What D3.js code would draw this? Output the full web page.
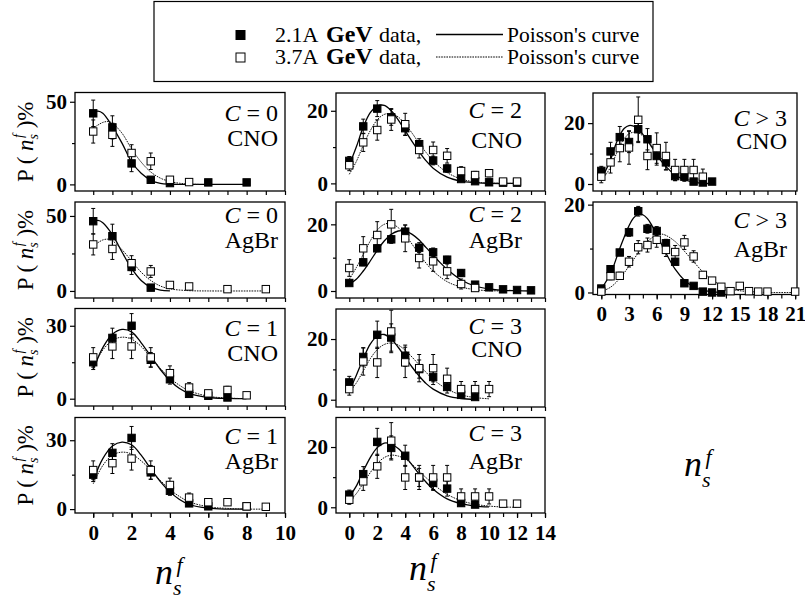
<!DOCTYPE html>
<html><head><meta charset="utf-8">
<script src="https://cdn.jsdelivr.net/npm/d3@7"></script>
<style>
body{margin:0;background:#fff;}
text{font-family:"Liberation Serif","Times New Roman",serif;fill:#000;}
</style></head><body>
<script>
// data points: [n_s^f, P(%), error]
var c0CNO_21 = [[0,43,8],[1,34.5,7],[2,12.7,5],[3,2.8,1.5],[4,0.8,0.5],[6,1.2,0.3],[8,1.2,0.3]];
var c0CNO_37 = [[0,32,7],[1,30,7],[2,19,5],[3,14,5],[4,2.8,1.5],[5,1.4,0.8]];
var c0CNO_fit21 = [[0,43.5],[0.25,44.3],[0.5,43],[1,35],[1.5,25],[2,13.7],[2.5,6.7],[3,2.6],[3.5,0.6],[4,0.1],[5,0],[6,0],[8,0]];
var c0CNO_fit37 = [[0,34],[0.5,37.5],[0.8,38],[1,37],[1.5,31],[2,21.5],[2.5,13.5],[3,7.5],[3.5,3.8],[4,1.7],[4.5,0.7],[5,0.2],[5.5,0]];

var c0AgBr_21 = [[0,46.5,8.5],[1,36.5,8],[2,16,5],[3,2.2,1]];
var c0AgBr_37 = [[0,31,7],[1,28,7],[2,18.5,5],[3,13,4],[4,4,1.5],[5,3,1],[7,1.2,0.5],[9,1.2,0.5]];
var c0AgBr_fit21 = [[0,46],[0.25,47],[0.5,45.5],[1,37.5],[1.5,26],[2,15],[2.5,7],[3,2.5],[3.5,0.6],[4,0]];
var c0AgBr_fit37 = [[0,30],[0.5,34],[0.8,34.5],[1,33.5],[1.5,27.5],[2,20],[2.5,12.5],[3,7],[3.5,3.3],[4,1.4],[5,0.2],[6,0],[9,0]];

var c1CNO_21 = [[0,15,3],[1,25,4],[2,30,5],[3,16,3],[4,8,2],[5,2,1],[6,1.2,0.5],[7,0.5,0.3]];
var c1CNO_37 = [[0,17,4],[1,21.5,5],[2,21.5,5],[3,17,4],[4,10.5,3],[5,4.6,2],[6,2.2,1],[7,3.6,1.5],[8,1.4,0.5]];
var c1CNO_fit21 = [[0,12],[0.5,21],[1,26.5],[1.5,28.5],[2,27.5],[2.5,23],[3,17.5],[3.5,12],[4,7.5],[4.5,4.2],[5,2.2],[6,0.5],[7,0.1],[8,0]];
var c1CNO_fit37 = [[0,13],[0.5,20],[1,24],[1.5,25.3],[2,24.5],[2.5,21.5],[3,17],[3.5,12.5],[4,8.5],[4.5,5.5],[5,3.3],[6,1],[7,0.3],[8,0]];

var c1AgBr_21 = [[0,15,3],[1,24.5,4],[2,31,5],[3,16,3],[4,8,2],[5,2.5,1],[6,1.2,0.5],[8,1.2,0.5]];
var c1AgBr_37 = [[0,17,4],[1,20,4.5],[2,22,5],[3,17,4],[4,10.5,3],[5,5,2],[6,3,1.2],[7,3,1.2],[8,1.2,0.5],[9,1,0.5]];
var c1AgBr_fit21 = [[0,12.5],[0.5,22],[1,27.5],[1.5,29.2],[2,28],[2.5,23.5],[3,17.5],[3.5,12],[4,7.5],[4.5,4.2],[5,2],[6,0.4],[7,0],[8,0]];
var c1AgBr_fit37 = [[0,11],[0.5,19],[1,23.5],[1.5,24.8],[2,24],[2.5,21],[3,17],[3.5,12.5],[4,8.5],[4.5,5.5],[5,3.2],[6,1],[7,0.3],[8,0],[9,0]];

var c2CNO_21 = [[0,6.2,1.2],[1,15.7,2],[2,20.6,2.2],[3,18.2,2.2],[4,15.2,2],[5,10.8,1.5],[6,6.3,1.2],[7,4.1,1],[8,1.2,0.5],[9,0.6,0.3],[10,0.3,0.2],[11,0.2,0.1],[12,0.2,0.1]];
var c2CNO_37 = [[0,5,1.5],[1,11.3,2.5],[2,14.7,2.8],[3,17.6,3],[4,16.3,3],[5,9.2,2.2],[6,9.2,2.2],[7,7.6,2],[8,3.4,1.2],[9,2.3,1],[10,2.8,1],[11,0.5,0.3],[12,0.5,0.3]];
var c2CNO_fit21 = [[0,5],[0.5,10],[1,15.5],[1.5,19.5],[2,21.3],[2.5,21.5],[3,20],[3.5,17.5],[4,14.5],[4.5,11.5],[5,8.7],[5.5,6.2],[6,4.2],[7,1.7],[8,0.6],[9,0.2],[10,0],[12,0]];
var c2CNO_fit37 = [[0,2.5],[0.5,6],[1,10.5],[1.5,14.5],[2,17.5],[2.5,19],[3,19.2],[3.5,18.3],[4,16.3],[4.5,13.8],[5,11],[5.5,8.5],[6,6.2],[7,3],[8,1.2],[9,0.4],[10,0.1],[12,0]];

var c2AgBr_21 = [[0,2.4,0.8],[1,8.6,1],[2,12.8,1],[3,15.5,1.2],[4,17.8,2],[5,13,1.5],[6,11.6,1.3],[7,9.4,1],[8,5.4,1],[9,1.9,0.5],[10,1.1,0.4],[11,0.5,0.2],[12,0.3,0.2],[13,0.2,0.1]];
var c2AgBr_37 = [[0,6.9,2.5],[1,12.8,3.5],[2,16.8,4],[3,20,4.5],[4,15.8,4],[5,9.9,3],[6,8.9,3],[7,5.9,2.2],[8,2.1,1.5],[9,0.9,0.8]];
var c2AgBr_fit21 = [[0,2],[0.5,3.5],[1,6],[1.5,9],[2,12.2],[2.5,15],[3,17],[3.5,18],[4,18],[4.5,17],[5,15.3],[5.5,13],[6,10.8],[6.5,8.5],[7,6.5],[8,3.3],[9,1.5],[10,0.6],[11,0.2],[12,0.1],[13,0]];
var c2AgBr_fit37 = [[0,3.5],[0.5,7],[1,11],[1.5,15],[2,18.3],[2.5,20],[3,20.3],[3.5,19],[4,16.8],[4.5,14],[5,11],[5.5,8.3],[6,6],[7,2.8],[8,1.2],[9,0.4],[10,0.1],[11,0]];

var c3CNO_21 = [[0,5.7,2],[1,14.1,3],[2,21.4,4.5],[3,20.5,4.5],[4,14.5,3.5],[5,10.1,3],[6,7.5,2.5],[7,4.2,2],[8,1.6,1],[9,0.9,0.7]];
var c3CNO_37 = [[0,3.5,2],[1,12.6,4.5],[2,12.3,5],[3,22.5,7],[4,12.3,5],[5,10.4,4.5],[6,10.4,4.5],[7,6.9,3.5],[8,3.5,2.5],[9,3.5,2.5],[10,3.5,2.5]];
var c3CNO_fit21 = [[0,3],[0.5,8],[1,13.5],[1.5,18.3],[2,21],[2.5,21.5],[3,20],[3.5,17.3],[4,14],[4.5,10.7],[5,7.8],[5.5,5.3],[6,3.5],[7,1.3],[8,0.4],[9,0.1]];
var c3CNO_fit37 = [[0,2.5],[0.5,5.5],[1,9.5],[1.5,13.5],[2,16.5],[2.5,18.2],[3,18.7],[3.5,18],[4,16.3],[4.5,14],[5,11.5],[5.5,9],[6,6.7],[7,3.5],[8,1.6],[9,0.7],[10,0.3]];

var c3AgBr_21 = [[0,4.2,1.5],[1,11,2.5],[2,21.7,4.5],[3,19.7,4],[4,17.1,3.5],[5,9.9,3],[6,8.1,2.5],[7,6.2,2.5],[8,1.4,1],[9,0.9,0.6]];
var c3AgBr_37 = [[0,2.5,1.5],[1,8.6,3],[2,13.6,4],[3,22.1,6],[4,9.9,4],[5,9.9,4],[6,9.9,4],[7,9.9,4],[8,3.6,2.5],[9,3.6,2.5],[10,3.6,2.5],[11,1.2,0.8],[12,1.2,0.8]];
var c3AgBr_fit21 = [[0,3.5],[0.5,7],[1,12],[1.5,16.5],[2,19.8],[2.5,21.3],[3,21],[3.5,19.5],[4,17],[4.5,14],[5,11],[5.5,8.3],[6,6],[7,2.8],[8,1.2],[9,0.4],[10,0.1]];
var c3AgBr_fit37 = [[0,2],[0.5,4.5],[1,8],[1.5,11.5],[2,14.5],[2.5,16.5],[3,17.3],[3.5,17],[4,16],[4.5,14.2],[5,12],[5.5,9.8],[6,7.7],[7,4.3],[8,2.2],[9,1],[10,0.4],[11,0.1],[12,0]];

var c4CNO_21 = [[0,4.3,1.5],[1,10.7,3],[2,15.4,3.5],[3,13.8,3.5],[4,18,4],[5,14.7,3.5],[6,9.2,3],[7,7.1,2.5],[8,2.6,1.5],[9,2.4,1.5],[10,0.8,0.7],[11,0.5,0.4],[12,0.8,0.4]];
var c4CNO_37 = [[0,2.4,2],[1,7.1,3.5],[2,11.8,4.5],[3,12,5.5],[4,21.1,7.5],[5,9.2,4.5],[6,11.8,5],[7,9.2,4.5],[8,4.6,3.5],[9,4.6,3.5],[10,4.6,3.5],[11,2.4,2.5]];
var c4CNO_fit21 = [[0,1.5],[1,8],[1.5,12.5],[2,16],[2.5,18.3],[3,19.2],[3.5,19],[4,18],[4.5,16.3],[5,14.3],[5.5,12],[6,9.7],[6.5,7.5],[7,5.7],[8,3],[9,1.4],[10,0.6],[11,0.2],[12,0.1]];
var c4CNO_fit37 = [[0,1],[1,5.5],[1.5,9],[2,12.5],[2.5,15],[3,16.5],[3.5,17],[4,16.8],[4.5,15.8],[5,14.3],[5.5,12.5],[6,10.5],[6.5,8.5],[7,6.7],[8,3.8],[9,2],[10,1],[11,0.4],[12,0.2]];

var c4AgBr_21 = [[0,0.9,0.3],[1,5.3,0.6],[2,9.1,0.7],[3,13.7,0.9],[4,18.5,1.1],[5,14.5,1],[6,14,1],[7,11.2,0.9],[8,7,0.7],[9,2.1,0.4],[10,1.5,0.3],[11,0.2,0.1],[12,0,0.1],[13,0,0.1]];
var c4AgBr_37 = [[0,0.2,0.3],[1,3.7,0.8],[2,3.8,0.8],[3,7,1.2],[4,10.3,1.5],[5,10.8,1.6],[6,12,1.7],[7,9.7,1.5],[8,9.2,1.5],[9,11.4,1.6],[10,8.2,1.3],[11,4,0.8],[12,2.7,0.6],[13,1.3,0.4],[14,0.3,0.2],[15,1.5,0.4],[16,0.3,0.2],[17,0.2,0.2],[18,0.2,0.2],[21,0.2,0.2]];
var c4AgBr_fit21 = [[0,0.8],[1,4.3],[2,10],[3,15.2],[3.5,17],[4,17.8],[4.5,17.7],[5,16.8],[5.5,15.2],[6,13.2],[7,9],[8,5.3],[9,2.8],[10,1.3],[11,0.5],[12,0.2],[13,0]];
var c4AgBr_fit37 = [[0,0.2],[1,1.2],[2,3.2],[3,6],[4,9],[5,11.6],[6,13.1],[6.5,13.3],[7,13],[8,11.6],[9,9.4],[10,7],[11,4.7],[12,2.9],[13,1.6],[14,0.8],[15,0.4],[16,0.2],[17,0.1],[18,0],[21,0]];

var xTicks = [[0,2,4,6,8,10],[0,2,4,6,8,10,12,14],[0,3,6,9,12,15,18,21]];
var legendRows = ["2.1A", "3.7A"];

// layout
var cols = [
    {x0: 75, x1: 285, dom: [-0.95, 10], minor: 1, right: 278, title: [155, 584]},
    {x0: 336, x1: 545, dom: [-0.95, 14], minor: 1, right: 522, title: [409, 580]},
    {x0: 593, x1: 797, dom: [-0.9, 21.2], minor: 1.5, right: 787, title: [684, 476]}
];

var panels = [
    {col: 0, t: 92.5, b: 191, y: [-4, 55.6], yt: [0, 50], c: "0", op: "=", nuc: "CNO", lab: [28, 53], d21: c0CNO_21, d37: c0CNO_37, f21: c0CNO_fit21, f37: c0CNO_fit37},
    {col: 0, t: 202, b: 298, y: [-4.7, 59.3], yt: [0, 50], c: "0", op: "=", nuc: "AgBr", lab: [21, 46], d21: c0AgBr_21, d37: c0AgBr_37, f21: c0AgBr_fit21, f37: c0AgBr_fit37},
    {col: 0, t: 308.5, b: 406, y: [-3, 37.1], yt: [0, 30], c: "1", op: "=", nuc: "CNO", lab: [27, 52], d21: c1CNO_21, d37: c1CNO_37, f21: c1CNO_fit21, f37: c1CNO_fit37},
    {col: 0, t: 417.5, b: 513, y: [-1.7, 39.9], yt: [0, 30], c: "1", op: "=", nuc: "AgBr", lab: [26, 51], d21: c1AgBr_21, d37: c1AgBr_37, f21: c1AgBr_fit21, f37: c1AgBr_fit37, bottom: true},
    {col: 1, t: 93, b: 191, y: [-2.1, 24.9], yt: [0, 20], c: "2", op: "=", nuc: "CNO", lab: [25, 55], d21: c2CNO_21, d37: c2CNO_37, f21: c2CNO_fit21, f37: c2CNO_fit37},
    {col: 1, t: 202, b: 298, y: [-2.1, 26.7], yt: [0, 20], c: "2", op: "=", nuc: "AgBr", lab: [20, 46], d21: c2AgBr_21, d37: c2AgBr_37, f21: c2AgBr_fit21, f37: c2AgBr_fit37},
    {col: 1, t: 309, b: 407, y: [-2.4, 29.9], yt: [0, 20], c: "3", op: "=", nuc: "CNO", lab: [25, 48], d21: c3CNO_21, d37: c3CNO_37, f21: c3CNO_fit21, f37: c3CNO_fit37},
    {col: 1, t: 417.5, b: 513, y: [-1.9, 29.8], yt: [0, 20], c: "3", op: "=", nuc: "AgBr", lab: [23, 51], d21: c3AgBr_21, d37: c3AgBr_37, f21: c3AgBr_fit21, f37: c3AgBr_fit37, bottom: true},
    {col: 2, t: 93, b: 191, y: [-2.3, 29.9], yt: [0, 20], c: "3", op: ">", nuc: "CNO", lab: [33, 56], d21: c4CNO_21, d37: c4CNO_37, f21: c4CNO_fit21, f37: c4CNO_fit37},
    {col: 2, t: 202, b: 294.5, y: [-0.46, 20.6], yt: [0, 20], c: "3", op: ">", nuc: "AgBr", lab: [26, 55], d21: c4AgBr_21, d37: c4AgBr_37, f21: c4AgBr_fit21, f37: c4AgBr_fit37, bottom: true}
];

var svg = d3.select("body").append("svg")
    .attr("width", 805)
    .attr("height", 599);

var line = d3.line()
    .curve(d3.curveCatmullRom.alpha(0.5))
    .x(d => d[0]).y(d => d[1]);

panels.forEach(function (p) {
    var c = cols[p.col];
    var x = d3.scaleLinear().domain(c.dom).range([c.x0, c.x1]);
    var y = d3.scaleLinear().domain(p.y).range([p.b, p.t]);
    var g = svg.append("g");

    // bottom ticks
    var minorT = d3.range(0, c.dom[1] + 0.01, c.minor);
    var gx = g.append("g").attr("transform", "translate(0," + p.b + ")");
    gx.call(d3.axisBottom(x).tickValues(minorT).tickSize(4).tickFormat(""));
    gx.select(".domain").remove();
    gx.selectAll("line").attr("stroke-width", 1.2);
    if (p.bottom) {
        var gl = g.append("g").attr("transform", "translate(0," + p.b + ")");
        gl.call(d3.axisBottom(x).tickValues(xTicks[p.col]).tickSize(5).tickPadding(7).tickFormat(d3.format("d")));
        gl.select(".domain").remove();
        gl.selectAll("line").attr("stroke-width", 1.2);
        gl.selectAll("text").attr("font-size", 21).attr("font-weight", "bold").attr("fill", "#000");
    }

    // left ticks
    var gy = g.append("g").attr("transform", "translate(" + c.x0 + ",0)");
    gy.call(d3.axisLeft(y).tickValues(p.yt).tickSize(5).tickPadding(3).tickFormat(d3.format("d")));
    gy.select(".domain").remove();
    gy.selectAll("line").attr("stroke-width", 1.2);
    gy.selectAll("text").attr("font-size", 21).attr("font-weight", "bold").attr("fill", "#000");
    var gm = g.append("g").attr("transform", "translate(" + c.x0 + ",0)");
    gm.call(d3.axisLeft(y).tickValues([p.yt[1] / 2]).tickSize(3).tickFormat(""));
    gm.select(".domain").remove();
    gm.selectAll("line").attr("stroke-width", 1.2);

    // frame
    g.append("rect")
        .attr("x", c.x0).attr("y", p.t)
        .attr("width", c.x1 - c.x0).attr("height", p.b - p.t)
        .attr("fill", "none").attr("stroke", "#000").attr("stroke-width", 1.3);

    // poisson curves
    g.append("path")
        .attr("d", line(p.f21.map(d => [x(d[0]), y(d[1])])))
        .attr("fill", "none").attr("stroke", "#000").attr("stroke-width", 1.3);
    g.append("path")
        .attr("d", line(p.f37.map(d => [x(d[0]), y(d[1])])))
        .attr("fill", "none").attr("stroke", "#111").attr("stroke-width", 1)
        .attr("stroke-dasharray", "1.6,1");

    // data with error bars
    [[p.d21, "#000"], [p.d37, "#fff"]].forEach(function (s) {
        var pts = g.append("g").selectAll("g").data(s[0]).enter().append("g");
        pts.filter(d => d[2] > 0.35).each(function (d) {
            var e = d3.select(this), cx = x(d[0]);
            e.append("line").attr("x1", cx).attr("x2", cx)
                .attr("y1", y(d[1] - d[2])).attr("y2", y(d[1] + d[2]))
                .attr("stroke", "#000").attr("stroke-width", 1);
            [d[1] - d[2], d[1] + d[2]].forEach(function (v) {
                e.append("line").attr("x1", cx - 2).attr("x2", cx + 2)
                    .attr("y1", y(v)).attr("y2", y(v))
                    .attr("stroke", "#000").attr("stroke-width", 1);
            });
        });
        pts.append("rect")
            .attr("x", d => x(d[0]) - 3.7).attr("y", d => y(d[1]) - 3.7)
            .attr("width", 7.4).attr("height", 7.4)
            .attr("fill", s[1]).attr("stroke", "#000").attr("stroke-width", 1);
    });

    // labels
    var t1 = g.append("text").attr("x", c.right).attr("y", p.t + p.lab[0])
        .attr("text-anchor", "end").attr("font-size", 24);
    t1.append("tspan").attr("font-style", "italic").text("C");
    t1.append("tspan").text(" " + p.op + " " + p.c);
    g.append("text").attr("x", c.right).attr("y", p.t + p.lab[1])
        .attr("text-anchor", "end").attr("font-size", 24).text(p.nuc);

    // y title on first column
    if (p.col === 0) {
        var cy = (p.t + p.b) / 2;
        var yt = g.append("text")
            .attr("transform", "translate(33," + cy + ") rotate(-90)")
            .attr("text-anchor", "middle").attr("font-size", 23);
        yt.append("tspan").text("P ( ");
        yt.append("tspan").attr("font-style", "italic").text("n");
        yt.append("tspan").attr("font-size", 14).attr("font-style", "italic").attr("dy", 5).text("s");
        yt.append("tspan").attr("font-size", 14).attr("font-style", "italic").attr("dx", -4).attr("dy", -15).text("f");
        yt.append("tspan").attr("dy", 10).text(" )%");
    }
});

// x titles
cols.forEach(function (c) {
    var t = svg.append("text").attr("x", c.title[0]).attr("y", c.title[1])
        .attr("font-size", 36).attr("font-style", "italic");
    t.append("tspan").text("n");
    t.append("tspan").attr("font-size", 22).attr("dy", 11).text("s");
    t.append("tspan").attr("font-size", 22).attr("dx", -5).attr("dy", -23).text("f");
});

// legend
var lg = svg.append("g");
lg.append("rect").attr("x", 154).attr("y", 1.5).attr("width", 499).attr("height", 80)
    .attr("fill", "none").attr("stroke", "#000").attr("stroke-width", 1.2);
legendRows.forEach(function (r, i) {
    var base = 41.5 + i * 22.5;
    lg.append("rect").attr("x", 236).attr("y", base - 11).attr("width", 9).attr("height", 9)
        .attr("fill", i === 0 ? "#000" : "#fff").attr("stroke", "#000").attr("stroke-width", 1);
    lg.append("text").attr("x", 275).attr("y", base).attr("font-size", 22).text(r);
    lg.append("text").attr("x", 326).attr("y", base).attr("font-size", 24).attr("font-weight", "bold").text("GeV");
    lg.append("text").attr("x", 379).attr("y", base).attr("font-size", 22).text("data,");
    lg.append("line").attr("x1", 436).attr("x2", 503).attr("y1", base - 7).attr("y2", base - 7)
        .attr("stroke", "#000").attr("stroke-width", i === 0 ? 1.3 : 1)
        .attr("stroke-dasharray", i === 0 ? null : "1.6,1");
    lg.append("text").attr("x", 507).attr("y", base).attr("font-size", 21.5).text("Poisson's curve");
});
</script>
</body></html>
